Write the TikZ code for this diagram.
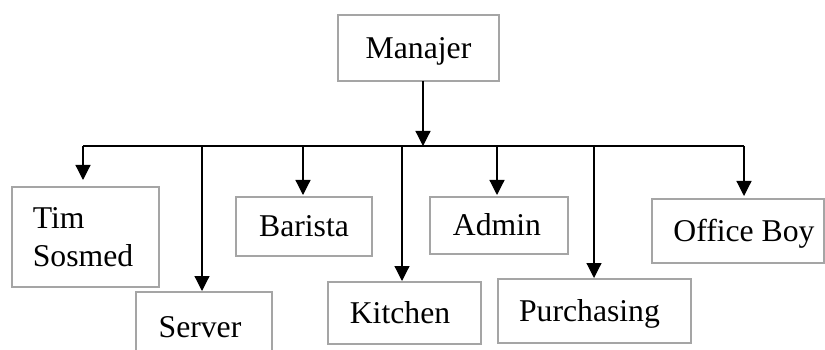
\documentclass[tikz,border=0pt]{standalone}
\usepackage{fontspec}
\setmainfont{Liberation Serif}
\usetikzlibrary{arrows.meta}
\definecolor{boxgray}{RGB}{165,165,165}
\newcommand{\padr}[1]{\hspace*{#1}}
\begin{document}
\begin{tikzpicture}[x=1pt,y=-1pt,
  box/.style={draw=boxgray, line width=2pt, inner sep=0pt, outer sep=0pt,
    font=\fontsize{31.7}{38}\selectfont, text height=20.9pt, text depth=0pt, align=left},
  conn/.style={line width=1.2pt, black},
  arr/.style={conn, -{Triangle[length=15pt,width=15pt]}}]
\useasboundingbox (0,0) rectangle (825,350);
\clip (0,0) rectangle (825,350);
\node[box, minimum width=161pt, minimum height=66pt] (man) at (418.5,48) {Manajer};
\node[box, minimum width=147pt, minimum height=100pt, text height=58.9pt] (tim) at (85.5,237) {Tim\\Sosmed\padr{5pt}};
\node[box, minimum width=136pt, minimum height=70pt] (ser) at (204,327) {Server\padr{8pt}};
\node[box, minimum width=136pt, minimum height=59pt] (bar) at (304,226.5) {Barista};
\node[box, minimum width=153pt, minimum height=62pt] (kit) at (404.5,313) {Kitchen\padr{9pt}};
\node[box, minimum width=138pt, minimum height=57pt] (adm) at (499,225.5) {Admin\padr{4pt}};
\node[box, minimum width=193pt, minimum height=64pt] (pur) at (594.5,311) {Purchasing\padr{10pt}};
\node[box, minimum width=172pt, minimum height=64pt] (off) at (738,231) {\padr{12pt}Office Boy};
\coordinate (hub) at (423,146);
\coordinate (b1) at (83,146);
\coordinate (b2) at (202,146);
\coordinate (b3) at (303,146);
\coordinate (b4) at (402,146);
\coordinate (b5) at (497,146);
\coordinate (b6) at (594,146);
\coordinate (b7) at (744,146);
\draw[arr] (hub |- man.south) -- (hub);
\draw[conn] (b1) -- (b7);
\draw[arr, shorten >=7pt] (b1) -- (b1 |- tim.north);
\draw[arr, shorten >=1pt] (b2) -- (b2 |- ser.north);
\draw[arr, shorten >=2pt] (b3) -- (b3 |- bar.north);
\draw[arr, shorten >=1pt] (b4) -- (b4 |- kit.north);
\draw[arr, shorten >=2pt] (b5) -- (b5 |- adm.north);
\draw[arr, shorten >=1pt] (b6) -- (b6 |- pur.north);
\draw[arr, shorten >=3pt] (b7) -- (b7 |- off.north);
\end{tikzpicture}
\end{document}
